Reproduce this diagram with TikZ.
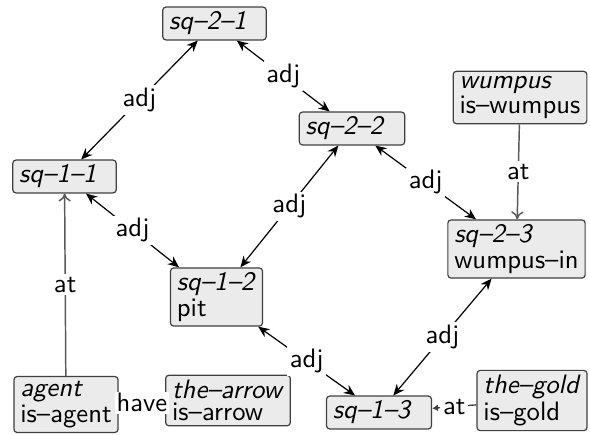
\documentclass[tikz,border=0pt]{standalone}
\usetikzlibrary{arrows.meta}
\begin{document}
\begin{tikzpicture}[x=0.375pt,y=-0.375pt,
  font=\sffamily\fontsize{10}{8.3}\selectfont,
  fact/.style={draw=black!75, fill=black!8, rounded corners=1.2pt,
    align=left, inner xsep=2.4pt, inner ysep=1.8pt, line width=0.45pt},
  rel/.style={fill=white, inner sep=1pt},
  adjedge/.style={{Stealth[length=4.2pt,width=3.6pt]}-{Stealth[length=4.2pt,width=3.6pt]}, line width=0.45pt},
  atedge/.style={-{To[length=3pt,width=4.6pt]}, draw=black!65, line width=0.55pt},
  smalltip/.style={-{Latex[length=2.2pt,width=2.6pt]}, draw=black!75, line width=0.5pt}]
\useasboundingbox (0,0) rectangle (590,434);

% squares of the cave
\node[fact] (s21) at (214.5,23.5) {\textit{sq--2--1}\hspace{5pt}};
\node[fact] (s22) at (352,128.5) {\textit{sq--2--2}\hspace{5pt}};
\node[fact] (s11) at (64.5,176.5) {\textit{sq--1--1}\hspace{5pt}};
\node[fact] (s12) at (216.5,297) {\textit{sq--1--2}\hspace{4pt}\\pit};
\node[fact] (s23) at (516.5,249) {\textit{sq--2--3}\\wumpus--in};
\node[fact] (s13) at (379,412.5) {\textit{sq--1--3}\hspace{5pt}};

% objects
\node[fact] (wump) at (520,97.5) {\textit{wumpus}\\is--wumpus};
\node[fact] (agent) at (66,404.5) {\textit{agent}\\is--agent};
\node[fact] (arrow) at (228,400.5) {\textit{the--arrow}\\is--arrow};
\node[fact] (gold) at (532,400.5) {\textit{the--gold}\\is--gold};

% adjacency
\draw[adjedge] (s11) -- node[rel] {adj} (s21);
\draw[adjedge] (s21) -- node[rel] {adj} (s22);
\draw[adjedge] (s11) -- node[rel] {adj} (s12);
\draw[adjedge] (s22) -- node[rel] {adj} (s12);
\draw[adjedge] (s22) -- node[rel] {adj} (s23);
\draw[adjedge] (s12) -- node[rel] {adj} (s13);
\draw[adjedge] (s23) -- node[rel] {adj} (s13);

% locations and possessions
\draw[atedge] (wump) -- node[rel] {at} (s23);
\draw[atedge] (agent) -- node[rel] {at} (s11);
\draw[draw=black!65, line width=0.55pt] (agent) -- node[rel, inner sep=0.6pt] {have} (arrow);
\draw[smalltip] (gold) -- node[rel] {at} (s13);
\end{tikzpicture}
\end{document}
